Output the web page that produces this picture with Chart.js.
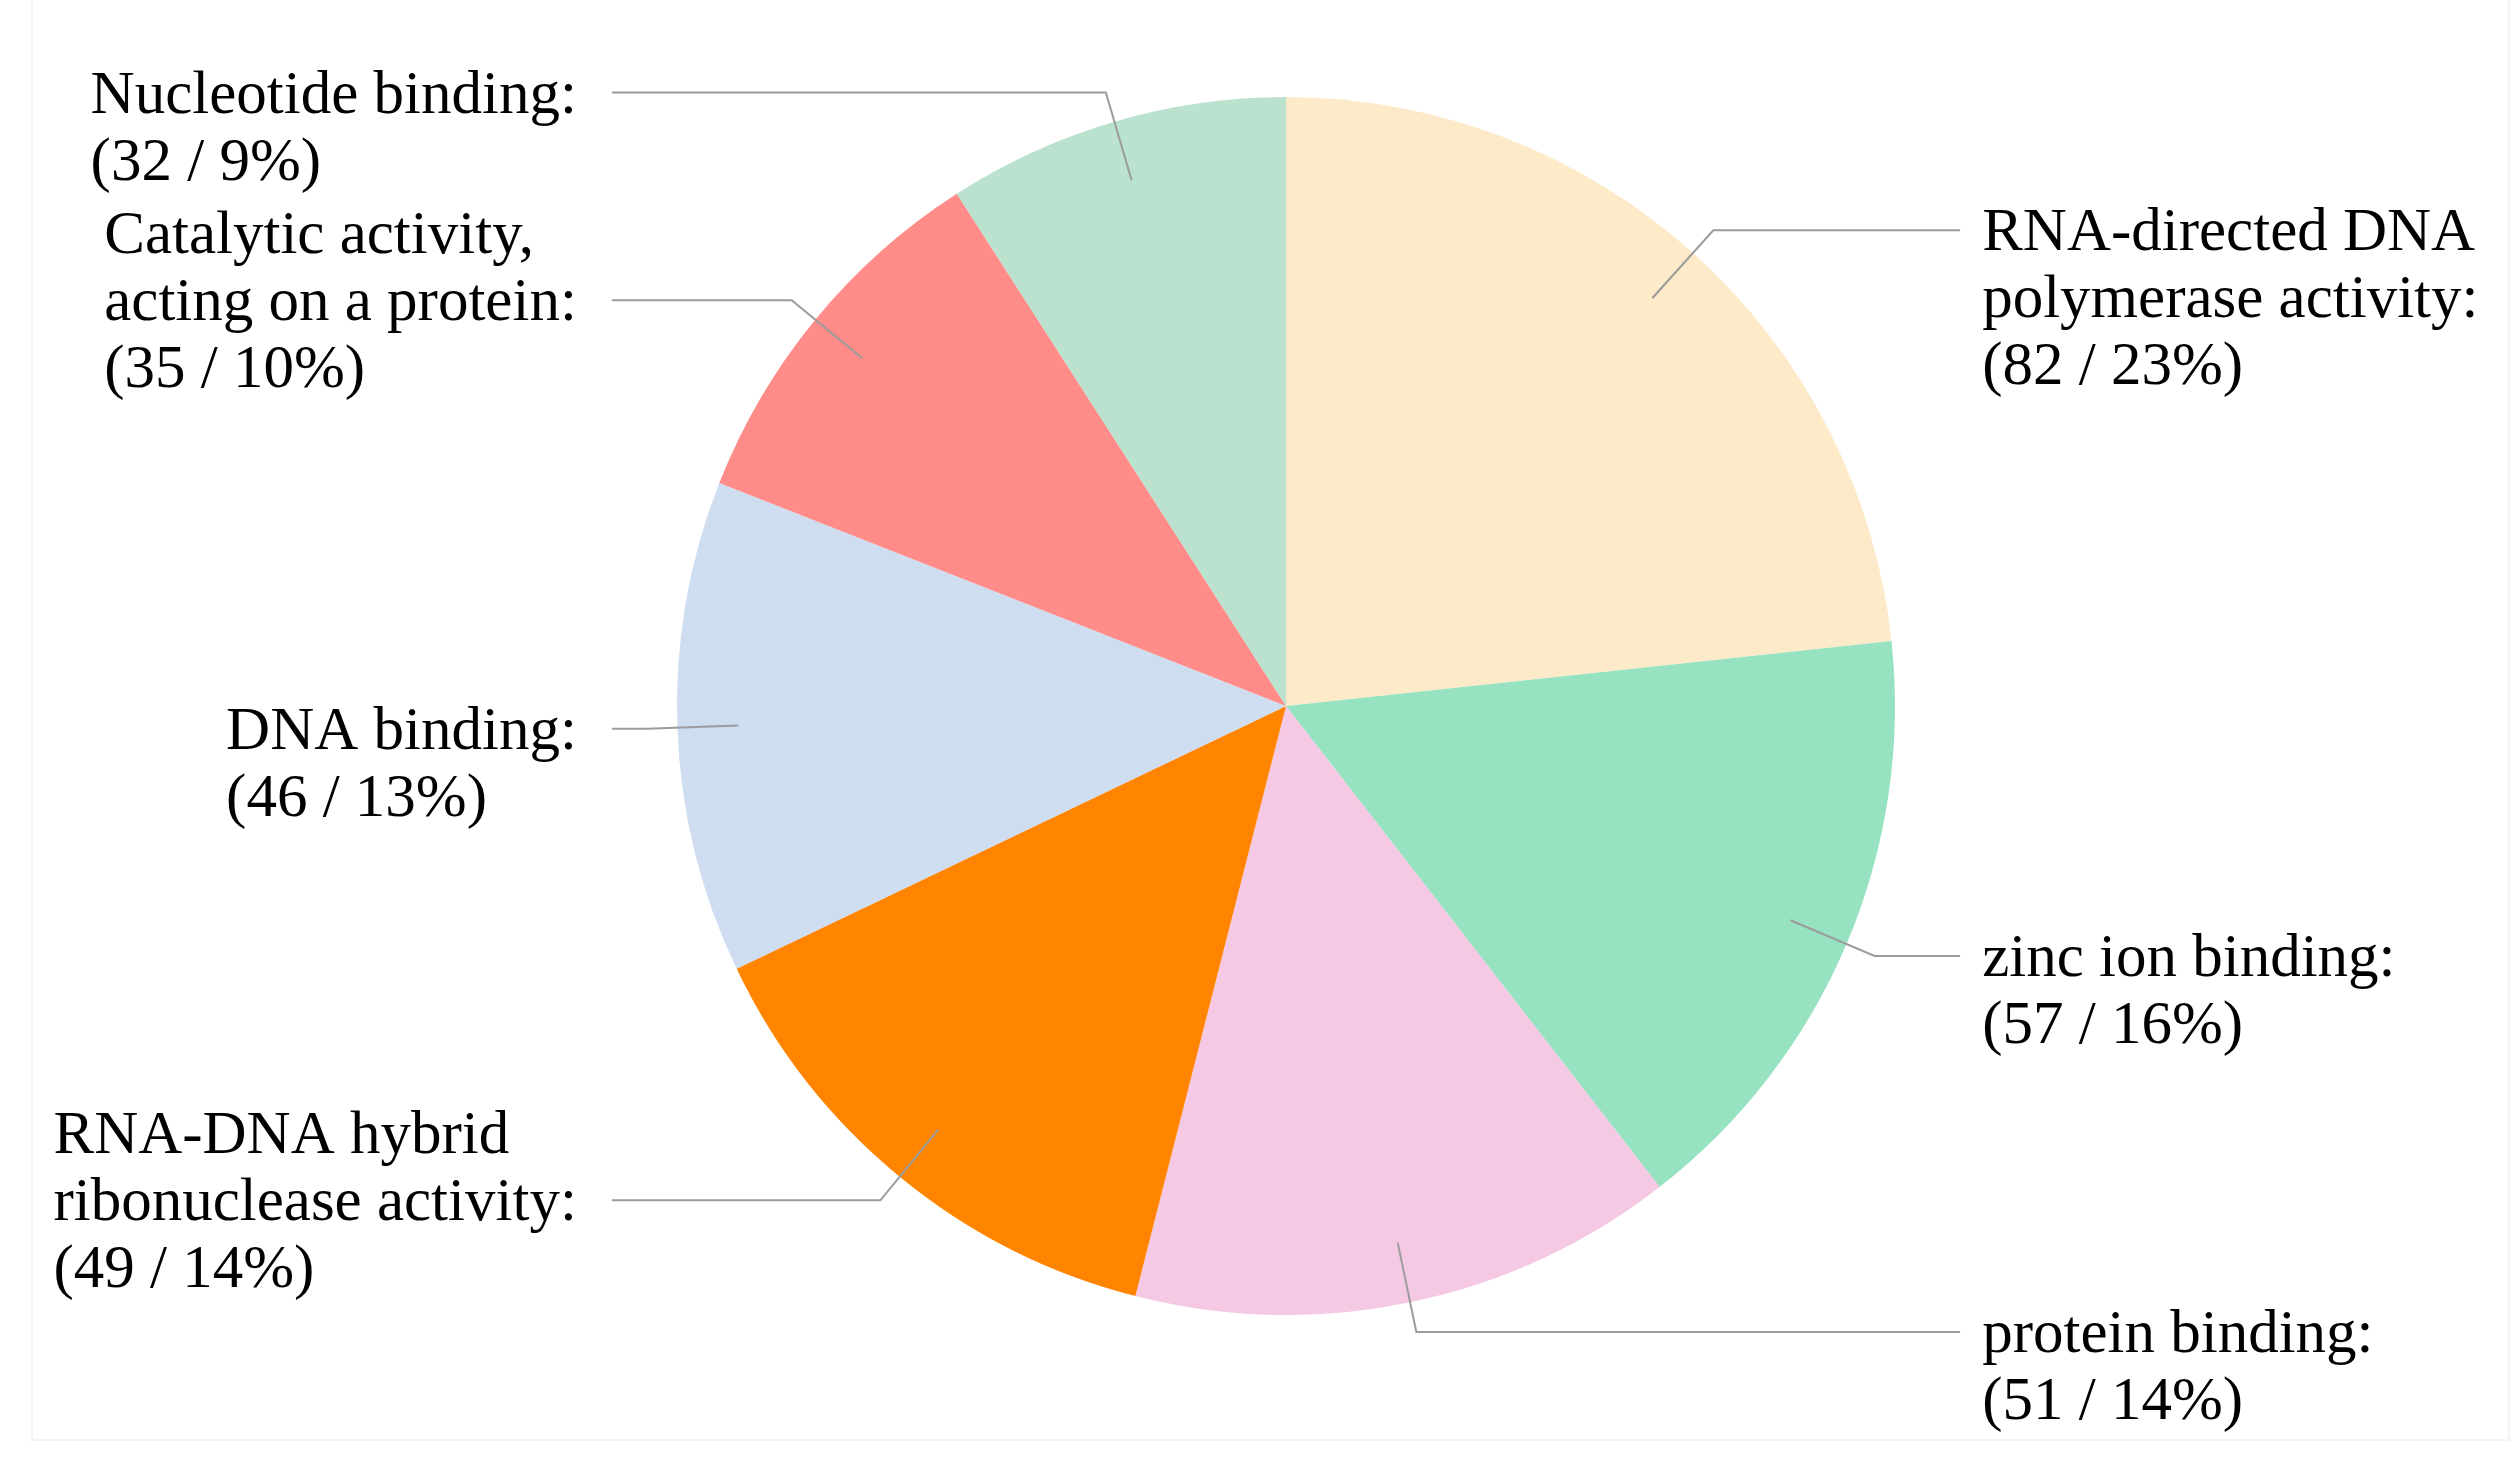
<!DOCTYPE html>
<html>
<head>
<meta charset="utf-8">
<script src="https://cdn.jsdelivr.net/npm/chart.js@4/dist/chart.umd.min.js"></script>
<style>
html,body{margin:0;padding:0;background:#fff;}
#wrap{width:2514px;height:1460px;position:relative;}
</style>
</head>
<body>
<div id="wrap"><canvas id="c" width="2514" height="1460"></canvas></div>
<script>
// ---- data ----
const categories = [
  "RNA-directed DNA polymerase activity",
  "zinc ion binding",
  "protein binding",
  "RNA-DNA hybrid ribonuclease activity",
  "DNA binding",
  "Catalytic activity, acting on a protein",
  "Nucleotide binding"
];
const labelLines = [
  ["RNA-directed DNA", "polymerase activity:"],
  ["zinc ion binding:"],
  ["protein binding:"],
  ["RNA-DNA hybrid", "ribonuclease activity:"],
  ["DNA binding:"],
  ["Catalytic activity,", "acting on a protein:"],
  ["Nucleotide binding:"]
];
const counts = [82, 57, 51, 49, 46, 35, 32];
const colors = ["#FDEAC8", "#97E2C0", "#F5C8E4", "#FF8500", "#CEDDF0", "#FF8C88", "#BBE1CF"];
// which text line the leader line points at
const anchorLine = [0, 0, 0, 1, 0, 1, 0];

const FONT_SIZE = 61;
const FONT = FONT_SIZE + "px 'Liberation Serif', 'DejaVu Serif', serif";
const LINE_H = 67;

const total = counts.reduce((a, b) => a + b, 0);

const labelPlugin = {
  id: 'leaderLabels',
  afterDraw(chart) {
    const ctx = chart.ctx;
    // faint frame
    ctx.save();
    ctx.strokeStyle = '#f4f4f4';
    ctx.lineWidth = 2;
    ctx.strokeRect(32, -5, 2477, 1445);
    ctx.restore();

    const meta = chart.getDatasetMeta(0);
    meta.data.forEach((arc, i) => {
      const p = arc.getProps(['x', 'y', 'startAngle', 'endAngle', 'outerRadius'], true);
      const mid = (p.startAngle + p.endAngle) / 2;
      const R = p.outerRadius;
      const c = Math.cos(mid), s = Math.sin(mid);
      const x0 = p.x + c * R * 0.9, y0 = p.y + s * R * 0.9;
      const x1 = p.x + c * R * 1.05, y1 = p.y + s * R * 1.05;
      const left = c < 0;
      const x2 = p.x + (left ? -1 : 1) * R * 1.107;
      ctx.save();
      ctx.strokeStyle = '#9c9c9c';
      ctx.lineWidth = 2;
      ctx.beginPath();
      ctx.moveTo(x0, y0);
      ctx.lineTo(x1, y1);
      ctx.lineTo(x2, y1);
      ctx.stroke();

      const pct = Math.round(counts[i] / total * 100);
      const lines = labelLines[i].concat(["(" + counts[i] + " / " + pct + "%)"]);
      ctx.font = FONT;
      ctx.fillStyle = '#000000';
      ctx.textBaseline = 'alphabetic';
      ctx.textAlign = 'left';
      const maxW = Math.max(...lines.map(l => ctx.measureText(l).width));
      const tx = left ? x2 - 35 - maxW : x2 + 22;
      const baseAnchor = y1 + FONT_SIZE * 0.33;
      lines.forEach((l, k) => {
        ctx.fillText(l, tx, baseAnchor + (k - anchorLine[i]) * LINE_H);
      });
      ctx.restore();
    });
  }
};

new Chart(document.getElementById('c'), {
  type: 'pie',
  data: {
    labels: categories,
    datasets: [{
      data: counts,
      backgroundColor: colors,
      borderWidth: 0
    }]
  },
  options: {
    responsive: false,
    devicePixelRatio: 1,
    animation: false,
    layout: { padding: { top: 97, bottom: 145, left: 58, right: 0 } },
    plugins: { legend: { display: false }, tooltip: { enabled: false } }
  },
  plugins: [labelPlugin]
});
</script>
</body>
</html>
